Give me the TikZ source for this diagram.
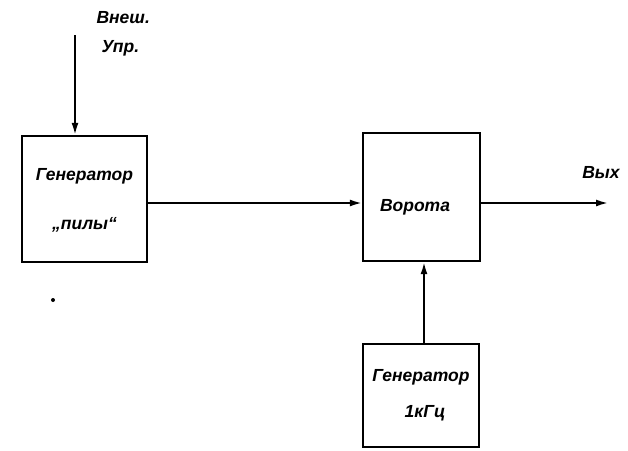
\documentclass[tikz,border=0pt]{standalone}
\usepackage{fontspec}
\setmainfont{Liberation Sans}
\usetikzlibrary{arrows.meta}
\begin{document}
\begin{tikzpicture}[x=1pt,y=-1pt,
  blk/.style={draw,line width=2.4pt,inner sep=0pt},
  lbl/.style={font=\bfseries\itshape\fontsize{17.5}{20}\selectfont},
  wire/.style={line width=1.8pt},
  arr/.style={wire,-{Latex[length=12pt,width=7pt]}}]
\useasboundingbox (0,0) rectangle (628,450);
\node[blk,minimum width=125pt,minimum height=126pt] (gen) at (84.5,199) {};
\node[lbl] (gent1) at (84.5,176) {Генератор};
\node[lbl] (gent2) at (84.5,225) {„пилы“};
\node[blk,minimum width=117pt,minimum height=128pt] (gate) at (421.5,197) {};
\node[lbl] (gatet) at (415,207) {Ворота};
\node[blk,minimum width=116pt,minimum height=103pt] (osc) at (421,395.5) {};
\node[lbl] (osct1) at (421,377) {Генератор};
\node[lbl] (osct2) at (425,413) {1кГц};
\coordinate (in) at (75,35);
\coordinate (out) at (608,203);
\node[lbl,anchor=west] (vnesh1) at (93,18) {Внеш.};
\node[lbl,anchor=west] (vnesh2) at (98,48) {Упр.};
\node[lbl] (vyh) at (601,173) {Вых};
\node[circle,fill,inner sep=0pt,minimum size=4pt] (dot) at (53,300) {};
\draw[arr] (in) -- (in |- gen.north);
\draw[arr] (gen.east |- out) -- (gate.west |- out);
\draw[arr] (gate.east |- out) -- (out);
\draw[arr] (osc.north -| 424,0) -- (gate.south -| 424,0);
\end{tikzpicture}
\end{document}
